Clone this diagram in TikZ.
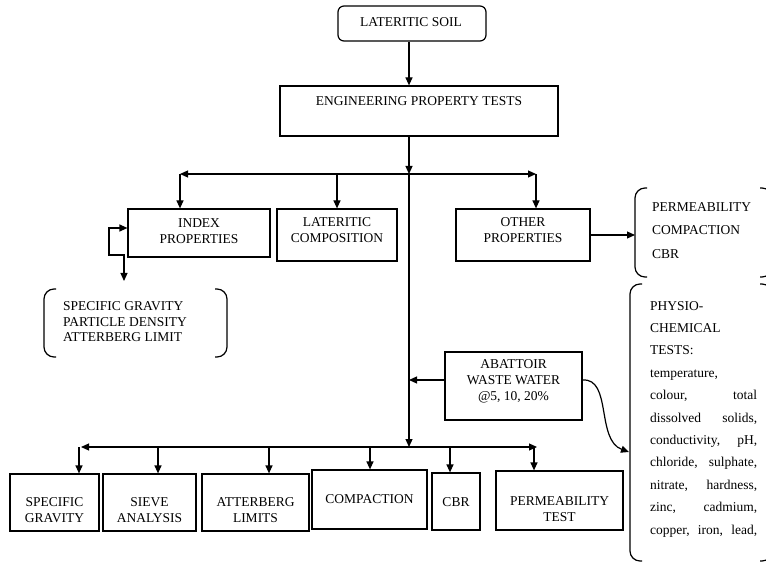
\documentclass[tikz,border=0pt]{standalone}
\usepackage{fontspec}
\setmainfont{Liberation Serif}
\usetikzlibrary{arrows.meta}
\begin{document}
\begin{tikzpicture}[x=1pt,y=-1pt,
  box/.style={draw, line width=1.2pt, inner sep=0pt},
  txt/.style={font=\fontsize{13.5}{16}\selectfont, align=center, inner sep=0pt},
  arr/.style={line width=1.2pt, -{Triangle[length=8pt,width=7pt]}},
  dbl/.style={line width=1.2pt, {Triangle[length=8pt,width=7pt]}-{Triangle[length=8pt,width=7pt]}},
  brk/.style={line width=1.2pt, rounded corners=10pt}
]
\useasboundingbox (0,0) rectangle (766,564);
\clip (0,0) rectangle (766,564);
% spine
\coordinate (sp) at (409,0);
% top boxes
\node[box, rounded corners=6pt, minimum width=148pt, minimum height=35pt] (soil) at (412,23.5) {};
\node[txt] (soilt) at (411,22) {LATERITIC SOIL};
\node[box, minimum width=278pt, minimum height=50pt] (eng) at (419,111) {};
\node[txt] (engt) at (419,101) {ENGINEERING PROPERTY TESTS};
\draw[arr] (soil.south -| sp) -- (eng.north -| sp);
% first bus
\coordinate (b1L) at (180,174);
\coordinate (b1R) at (536,174);
\draw[dbl] (b1L) -- (b1R);
\draw[arr] (eng.south -| sp) -- (sp |- b1L);
% second row
\node[box, minimum width=142pt, minimum height=48pt] (index) at (199,233) {};
\node[txt] (indext) at (199,231) {INDEX\\PROPERTIES};
\node[box, minimum width=120pt, minimum height=52pt] (comp) at (337,235) {};
\node[txt] (compt) at (337,230) {LATERITIC\\COMPOSITION};
\node[box, minimum width=134pt, minimum height=52pt] (other) at (523,235) {};
\node[txt] (othert) at (523,230.5) {OTHER\\PROPERTIES};
\draw[arr] (b1L) -- (b1L |- index.north);
\draw[arr] (comp.north |- b1L) -- (comp.north);
\draw[arr] (b1R) -- (b1R |- other.north);
% index properties bracket
\coordinate (ic) at (124,281);
\draw[dbl] (ic) -- (124,255) -- (109,255) -- (109,228) -- (index.west |- 0,228);
\draw[brk] (56,289) -- (44,289) -- (44,357) -- (56,357);
\draw[brk] (215,289) -- (227,289) -- (227,357) -- (215,357);
\node[txt, align=left, anchor=west, font=\fontsize{13.5}{15.5}\selectfont] (ipt) at (63,322) {SPECIFIC GRAVITY\\PARTICLE DENSITY\\ATTERBERG LIMIT};
% other properties bracket
\coordinate (pb) at (635,235);
\draw[arr] (other.east) -- (pb);
\draw[brk] (647,188) -- (635,188) -- (635,277) -- (647,277);
\draw[brk] (760,188) -- (772,188) -- (772,277) -- (760,277);
\node[txt, align=left, anchor=west, font=\fontsize{13.5}{23.5}\selectfont] (pbt) at (652,230.5) {PERMEABILITY\\COMPACTION\\CBR};
% physio-chemical bracket
\draw[brk] (642,284) -- (630,284) -- (630,561) -- (642,561);
\draw[brk] (760,284) -- (772,284) -- (772,561) -- (760,561);
\node[anchor=north west, inner sep=0pt, align=left, font=\fontsize{13.5}{22.4}\selectfont] (phys) at (650,301) {PHYSIO-\\CHEMICAL\\TESTS:\\temperature,\\\makebox[107pt][s]{colour, total}\\\makebox[107pt][s]{dissolved solids,}\\\makebox[107pt][s]{conductivity, pH,}\\\makebox[107pt][s]{chloride, sulphate,}\\\makebox[107pt][s]{nitrate, hardness,}\\\makebox[107pt][s]{zinc, cadmium,}\\\makebox[107pt][s]{copper, iron, lead,}};
\coordinate (phc) at (629,452);
% abattoir
\node[box, minimum width=137pt, minimum height=68pt] (abt) at (513.5,386) {};
\node[txt] (abtt) at (513.5,381.5) {ABATTOIR\\WASTE WATER\\@5, 10, 20\%};
\draw[arr] (abt.west |- 0,380) -- (sp |- 0,380);
\draw[arr] (abt.east |- 0,380) .. controls (612,378) and (596,440) .. (phc);
% bottom bus
\coordinate (b2L) at (81,447);
\coordinate (b2R) at (537,447);
\draw[dbl] (b2L) -- (b2R);
\draw[line width=1.2pt] (sp |- b1L) -- (sp |- 0,380);
\draw[arr] (sp |- 0,380) -- (sp |- b2L);
% bottom boxes
\node[box, minimum width=89pt, minimum height=57pt] (sg) at (54.5,502.5) {};
\node[txt] (sgt) at (54.5,510.5) {SPECIFIC\\GRAVITY};
\node[box, minimum width=93pt, minimum height=57pt] (sieve) at (149.5,502.5) {};
\node[txt] (sievet) at (149.5,510.5) {SIEVE\\ANALYSIS};
\node[box, minimum width=107pt, minimum height=57pt] (att) at (255.5,502.5) {};
\node[txt] (attt) at (255.5,510.5) {ATTERBERG\\LIMITS};
\node[box, minimum width=115pt, minimum height=59pt] (cmp) at (369.5,499.5) {};
\node[txt] (cmpt) at (369.5,499) {COMPACTION};
\node[box, minimum width=48pt, minimum height=57pt] (cbr) at (456,501.5) {};
\node[txt] (cbrt) at (456,502) {CBR};
\node[box, minimum width=127pt, minimum height=59pt] (pt) at (559.5,500.5) {};
\node[txt] (ptt) at (559.5,509.5) {PERMEABILITY\\TEST};
\draw[arr] (79,447) -- (79,0 |- sg.north);
\draw[arr] (158,447) -- (158,0 |- sieve.north);
\draw[arr] (269,447) -- (269,0 |- att.north);
\draw[arr] (370,447) -- (370,0 |- cmp.north);
\draw[arr] (450,447) -- (450,0 |- cbr.north);
\draw[arr] (534,447) -- (534,0 |- pt.north);
\end{tikzpicture}
\end{document}
